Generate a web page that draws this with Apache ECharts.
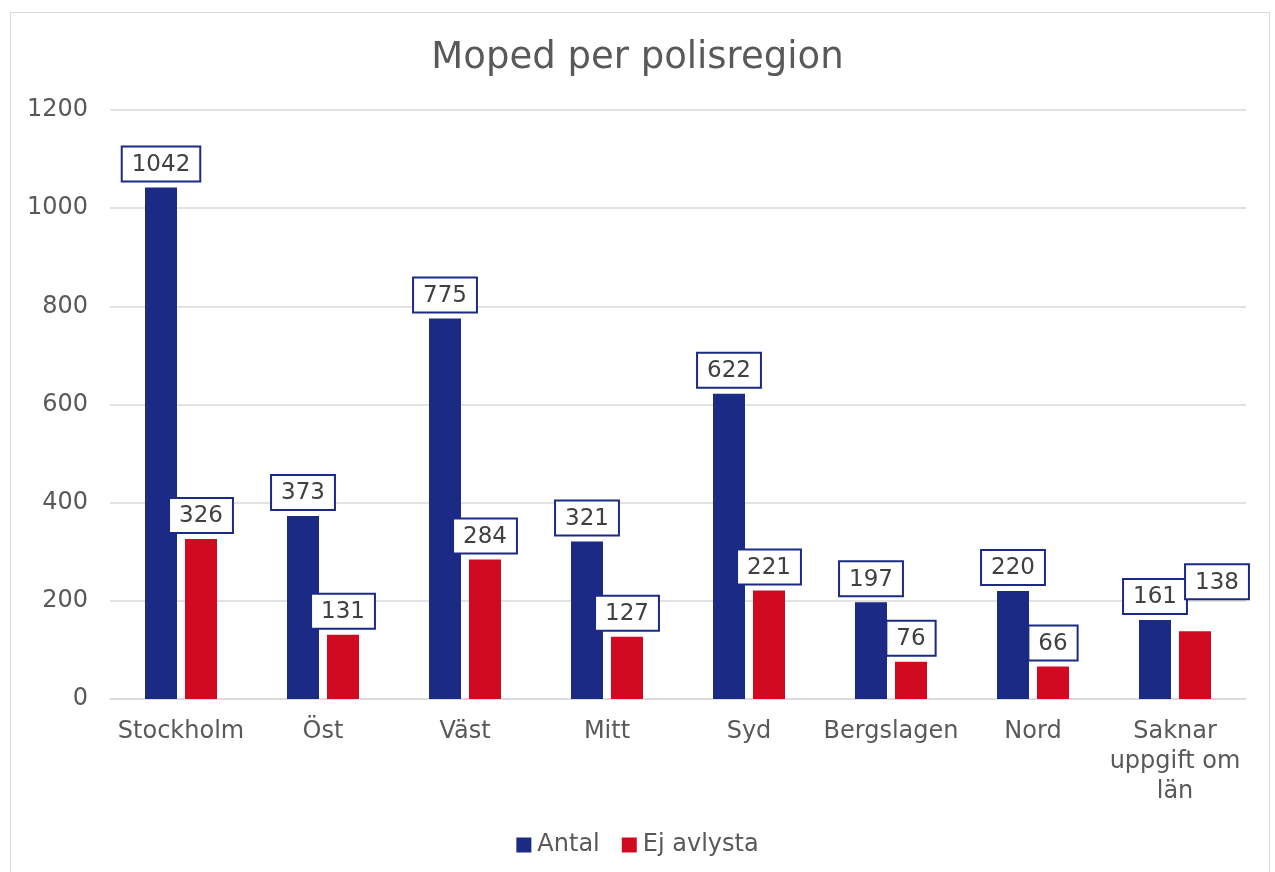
<!DOCTYPE html>
<html><head><meta charset="utf-8">
<script src="https://cdn.jsdelivr.net/npm/echarts@6/dist/echarts.min.js"></script>
<style>html,body{margin:0;padding:0;background:#fff}#c{width:1275px;height:872px}</style>
</head><body><div id="c"></div>
<script>
const categories = ['Stockholm', 'Öst', 'Väst', 'Mitt', 'Syd', 'Bergslagen', 'Nord', 'Saknar\nuppgift om\nlän'];
const antal = [1042, 373, 775, 321, 622, 197, 220, 161];
const ejAvlysta = [326, 131, 284, 127, 221, 76, 66, 138];
const yTicks = [0, 200, 400, 600, 800, 1000, 1200];

const font = 'Verdana, "DejaVu Sans", sans-serif';
const labelStyle = {
  show: true, position: 'top', distance: 7,
  fontFamily: font, fontSize: 23, color: '#404040',
  backgroundColor: '#fff', borderColor: '#1b2a84', borderWidth: 2,
  padding: [6, 9, 4, 9]
};
const chart = echarts.init(document.getElementById('c'), null, {renderer: 'canvas'});
chart.setOption({
  animation: false,
  backgroundColor: '#fff',
  graphic: [{type: 'rect', shape: {x: 10.5, y: 12.5, width: 1259, height: 870}, style: {fill: 'none', stroke: '#d9d9d9', lineWidth: 1}, silent: true}],
  title: {text: 'Moped per polisregion', left: 'center', top: 35, textStyle: {fontFamily: font, fontSize: 37, fontWeight: 'normal', color: '#595959'}},
  legend: {bottom: 10, left: 'center', itemWidth: 15, itemHeight: 15, itemGap: 22, icon: 'rect',
    textStyle: {fontFamily: font, fontSize: 24, color: '#595959', padding: [0, 0, 0, 1]}},
  grid: {left: 110, right: 29, top: 110, bottom: 173, containLabel: false},
  xAxis: {type: 'category', data: categories,
    axisLine: {lineStyle: {color: '#d9d9d9', width: 1.5}}, axisTick: {show: false},
    axisLabel: {fontFamily: font, fontSize: 24, color: '#595959', margin: 18, lineHeight: 30, interval: 0}},
  yAxis: {type: 'value', min: yTicks[0], max: yTicks[yTicks.length - 1], interval: 200,
    axisLine: {show: false}, axisTick: {show: false},
    splitLine: {lineStyle: {color: '#d9d9d9', width: 1.5}},
    axisLabel: {fontFamily: font, fontSize: 24, color: '#595959', margin: 22, formatter: v => String(v)}},
  series: [
    {name: 'Antal', type: 'bar', data: antal, barWidth: 32, barGap: '25%', itemStyle: {color: '#1b2a84'}, label: labelStyle},
    {name: 'Ej avlysta', type: 'bar', barWidth: 32, itemStyle: {color: '#d10a22'}, label: labelStyle,
      data: ejAvlysta.map((v, i) => i === ejAvlysta.length - 1 ? {value: v, label: {offset: [22, -26]}} : v)}
  ]
});
</script></body></html>
